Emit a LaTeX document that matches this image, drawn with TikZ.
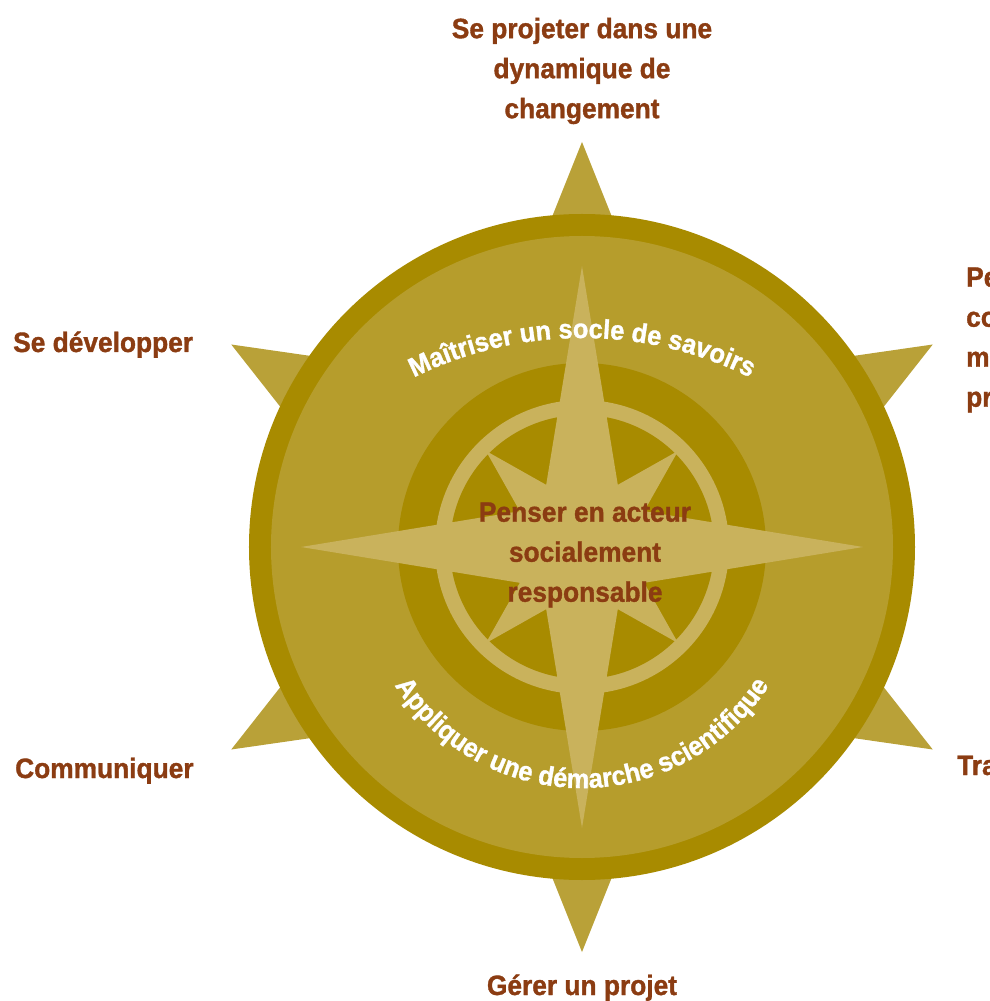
\documentclass[tikz,border=0pt]{standalone}
\usepackage{fontspec}
\setmainfont{Liberation Sans}[FakeStretch=0.94, BoldFeatures={FakeBold=1.2}]
\usepackage{tikz}
\usetikzlibrary{decorations.text}

\definecolor{rim}{RGB}{168,139,0}
\definecolor{disc}{RGB}{182,157,44}
\definecolor{spike}{RGB}{185,161,56}
\definecolor{rose}{RGB}{201,178,92}
\definecolor{label}{RGB}{139,60,18}

\newcommand{\goalfont}{\fontsize{28}{40}\selectfont\bfseries}
\newcommand{\arcfont}{\fontsize{27}{30}\selectfont\bfseries}

\begin{document}
\begin{tikzpicture}[x=1pt,y=1pt,
    goal/.style={text=label, font=\goalfont, inner sep=0pt}]
  \useasboundingbox (-582,-454) rectangle (407,547);

  % outer spikes
  \foreach \a in {90,30,-30,-90,-150,150}
    \fill[spike, rotate=\a] (405,0) -- (280,50) -- (280,-50) -- cycle;

  % rings
  \fill[rim] (0,0) circle (333);
  \fill[disc] (0,0) circle (311);
  \fill[rim] (0,0) circle (184);
  \fill[rose] (0,0) circle (147);
  \fill[rim] (0,0) circle (132);

  % compass rose
  \foreach \a in {45,135,225,315}
    \fill[rose, rotate=\a] (136,0) -- (0,38) -- (0,-38) -- cycle;
  \foreach \a in {0,90,180,270}
    \fill[rose, rotate=\a] (281,0) -- (0,46) -- (0,-46) -- cycle;

  % curved texts
  \path[decorate, decoration={text along path, text align=center,
      text={|\arcfont\color{white}|Maîtriser un socle de savoirs}}]
    (0,-168) ++(125:377) arc[start angle=125, end angle=55, radius=377];
  \path[decorate, decoration={text along path, text align=center,
      text={|\arcfont\color{white}|Appliquer une démarche scientifique}}]
    (0,-19) ++(200:222) arc[start angle=200, end angle=340, radius=222];

  % labels
  \node[goal, align=center] (centre) at (3,-8) {Penser en acteur\\socialement\\responsable};
  \node[goal, align=center] (projeter) at (0,476) {Se projeter dans une\\dynamique de\\changement};
  \node[goal, anchor=base west] (developper) at (-569,195) {Se développer};
  \node[goal, anchor=base west] (communiquer) at (-567,-231) {Communiquer};
  \node[goal, anchor=base] (gerer) at (0,-448) {Gérer un projet};
  \node[goal, anchor=west, align=left] (penser) at (384,207) {Pe\\co\\m\\pr};
  \node[goal, anchor=base west] (travailler) at (375,-228) {Tra};
\end{tikzpicture}
\end{document}
